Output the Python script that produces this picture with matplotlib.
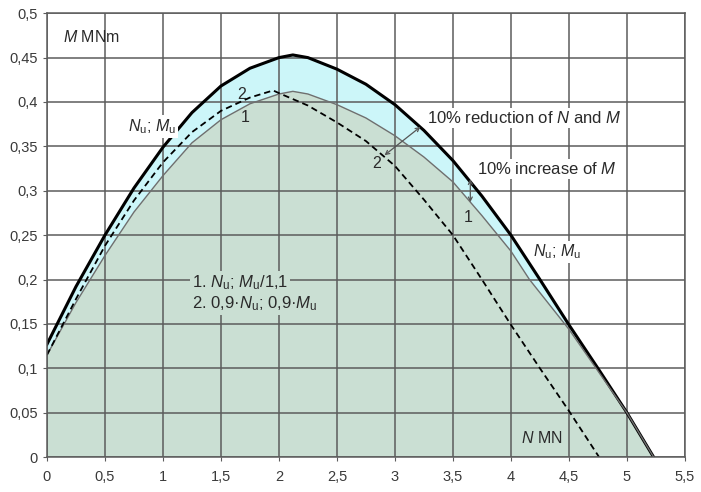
import matplotlib
matplotlib.use("Agg")
import matplotlib.pyplot as plt

plt.rcParams['font.family'] = ['Liberation Sans', 'DejaVu Sans']
plt.rcParams['mathtext.fontset'] = 'custom'
plt.rcParams['mathtext.rm'] = 'Liberation Sans'
plt.rcParams['mathtext.it'] = 'Liberation Sans:italic'

# Nu; Mu (aeussere Kurve)
n_outer = [0, 0.25, 0.5, 0.75, 1.0, 1.25, 1.5, 1.75, 2.0, 2.12, 2.25, 2.5,
           2.75, 3.0, 3.25, 3.5, 3.75, 4.0, 4.25, 4.5, 4.75, 5.0, 5.23]
m_outer = [0.127, 0.192, 0.25, 0.303, 0.349, 0.388, 0.418, 0.438, 0.45, 0.453, 0.45, 0.437,
           0.42, 0.397, 0.368, 0.334, 0.294, 0.25, 0.2, 0.149, 0.1, 0.05, 0.0]

# 1. Nu; Mu/1,1
n_1 = [0, 0.25, 0.5, 0.75, 1.0, 1.25, 1.5, 1.75, 2.0, 2.12, 2.25, 2.5,
       2.75, 3.0, 3.25, 3.5, 3.75, 4.0, 4.16, 4.5, 4.75, 5.0, 5.23]
m_1 = [0.115, 0.174, 0.227, 0.276, 0.317, 0.354, 0.38, 0.398, 0.409, 0.412, 0.409, 0.397,
       0.382, 0.362, 0.338, 0.31, 0.272, 0.232, 0.2, 0.144, 0.097, 0.05, 0.0]

# 2. 0,9*Nu; 0,9*Mu
n_2 = [0, 0.25, 0.5, 0.75, 1.0, 1.25, 1.5, 1.75, 1.95, 2.0, 2.25, 2.5,
       2.75, 3.0, 3.25, 3.5, 3.75, 4.0, 4.25, 4.5, 4.76]
m_2 = [0.115, 0.178, 0.238, 0.289, 0.332, 0.366, 0.39, 0.405, 0.413, 0.41, 0.396, 0.377,
       0.356, 0.328, 0.29, 0.25, 0.2, 0.149, 0.1, 0.052, 0.0]

x_ticks = [0, 0.5, 1, 1.5, 2, 2.5, 3, 3.5, 4, 4.5, 5, 5.5]
x_labels = ['0', '0,5', '1', '1,5', '2', '2,5', '3', '3,5', '4', '4,5', '5', '5,5']
y_ticks = [0, 0.05, 0.1, 0.15, 0.2, 0.25, 0.3, 0.35, 0.4, 0.45, 0.5]
y_labels = ['0', '0,05', '0,1', '0,15', '0,2', '0,25', '0,3', '0,35', '0,4', '0,45', '0,5']

cyan = '#ccf6f9'
green = '#cadfd3'
grey = '#5c5c5c'
txt = '#2a2a2a'

fig = plt.figure(figsize=(7.01, 4.92), dpi=100)
ax = fig.add_axes([0.067, 0.0711, 0.910, 0.902])

# Flaechen
ax.fill(n_outer + [0], m_outer + [0], color=cyan, lw=0, zorder=1)
ax.fill(n_1 + [0], m_1 + [0], color=green, lw=0, zorder=1)

# Kurven
ax.plot(n_outer, m_outer, color='black', lw=2.2, zorder=2)
ax.plot(n_1, m_1, color='#6f6f6f', lw=1.0, zorder=2)
ax.plot(n_2, m_2, color='black', lw=1.3, dashes=(3.5, 2.2), zorder=2)

ax.set_xlim(0, 5.5)
ax.set_ylim(0, 0.5)
ax.set_xticks(x_ticks)
ax.set_xticklabels(x_labels)
ax.set_yticks(y_ticks)
ax.set_yticklabels(y_labels)
ax.set_axisbelow('line')
ax.grid(True, color=grey, lw=1.1)
ax.tick_params(direction='out', length=3, color=grey, labelsize=10.5, labelcolor='#3a3a3a')
ax.tick_params(axis='x', pad=6)
for s in ax.spines.values():
    s.set_color(grey)
    s.set_linewidth(1.1)

white_box = dict(facecolor='white', edgecolor='none', pad=1.5)
green_box = dict(facecolor=green, edgecolor='none', pad=1.5)

ax.text(0.14, 0.473, r'$M$ MNm', fontsize=11.5, color=txt, ha='left', va='center')
ax.text(0.70, 0.372, r'$N_\mathrm{u}$; $M_\mathrm{u}$', fontsize=11.5, color=txt,
        ha='left', va='center', bbox=white_box)
ax.text(4.19, 0.231, r'$N_\mathrm{u}$; $M_\mathrm{u}$', fontsize=11.5, color=txt,
        ha='left', va='center', bbox=white_box)
ax.text(1.68, 0.409, '2', fontsize=11.5, color=txt, ha='center', va='center')
ax.text(1.71, 0.382, '1', fontsize=11.5, color=txt, ha='center', va='center')

ax.text(3.28, 0.382, r'10% reduction of $N$ and $M$', fontsize=12, color=txt,
        ha='left', va='center', bbox=white_box)
ax.text(3.71, 0.325, r'10% increase of $M$', fontsize=12, color=txt,
        ha='left', va='center', bbox=white_box)
ax.text(2.84, 0.331, '2', fontsize=11.5, color=txt, ha='center', va='center')
ax.text(3.63, 0.270, '1', fontsize=11.5, color=txt, ha='center', va='center')

ax.annotate('', xy=(3.22, 0.372), xytext=(2.91, 0.340),
            arrowprops=dict(arrowstyle='<->', color='#555555', lw=0.9,
                            mutation_scale=7, shrinkA=0, shrinkB=0))
ax.annotate('', xy=(3.65, 0.313), xytext=(3.65, 0.287),
            arrowprops=dict(arrowstyle='<->', color='#555555', lw=0.9,
                            mutation_scale=7, shrinkA=0, shrinkB=0))

ax.text(1.25, 0.197, r'1. $N_\mathrm{u}$; $M_\mathrm{u}$/1,1', fontsize=12, color=txt,
        ha='left', va='center', bbox=green_box)
ax.text(1.25, 0.173, r'2. 0,9·$N_\mathrm{u}$; 0,9·$M_\mathrm{u}$', fontsize=12, color=txt,
        ha='left', va='center', bbox=green_box)
ax.text(4.09, 0.021, r'$N$ MN', fontsize=11.5, color=txt, ha='left', va='center',
        bbox=green_box)

fig.savefig('out.png', dpi=100)
